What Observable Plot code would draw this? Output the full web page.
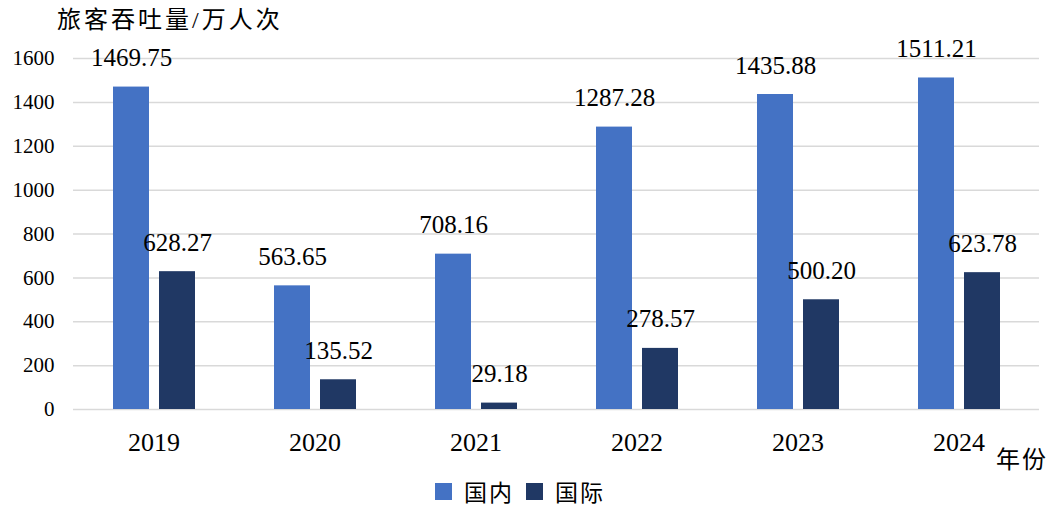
<!DOCTYPE html>
<html>
<head>
<meta charset="utf-8">
<script src="https://cdn.jsdelivr.net/npm/d3@7"></script>
<script src="https://cdn.jsdelivr.net/npm/@observablehq/plot@0.6"></script>
<style>
  body { margin: 0; background: #fff; width: 1052px; height: 512px; overflow: hidden; position: relative;
         font-family: "Liberation Serif", "Times New Roman", "Noto Sans CJK SC", serif; color: #000; }
  #title { height: 32px; padding-left: 57px; font-size: 24px; line-height: 40px; letter-spacing: 3px; white-space: nowrap; }
  #unitx { position: absolute; left: 996px; top: 440px; font-size: 24px; letter-spacing: 2px; }
  #legend { display: flex; justify-content: center; align-items: center; height: 42px; font-size: 23px; gap: 0; margin-left: 0px; }
  .sw { width: 17px; height: 17px; display: inline-block; margin-right: 12px; }
  .item { display: flex; align-items: center; margin-right: 12px; letter-spacing: 2px; }
  svg text { font-family: "Liberation Serif", "Times New Roman", "DejaVu Serif", serif !important; }
</style>
</head>
<body>
<div id="title">旅客吞吐量/万人次</div>
<div id="chart"></div>
<div id="legend"></div>
<div id="unitx">年份</div>
<script>
const years = ["2019", "2020", "2021", "2022", "2023", "2024"];
const domestic = [1469.75, 563.65, 708.16, 1287.28, 1435.88, 1511.21];
const international = [628.27, 135.52, 29.18, 278.57, 500.20, 623.78];
const series = ["国内", "国际"];
const colors = ["#4472C4", "#203864"];
const yTicks = [0, 200, 400, 600, 800, 1000, 1200, 1400, 1600];

const data = years.flatMap((y, i) => [
  {year: y, type: series[0], value: domestic[i]},
  {year: y, type: series[1], value: international[i]}
]);

const serifFont = '"Liberation Serif", "Times New Roman", serif';

const chart = Plot.plot({
  width: 1052,
  height: 438,
  marginLeft: 72,
  marginRight: 12,
  marginTop: 26,
  marginBottom: 61,
  style: {fontFamily: serifFont, color: "#000", background: "transparent"},
  fx: {domain: years, padding: 0, label: null},
  x: {domain: series, paddingInner: 0.22, paddingOuter: 0.85, axis: null},
  y: {domain: [0, 1600], label: null},
  color: {domain: series, range: colors},
  marks: [
    Plot.gridY(yTicks, {stroke: "#D9D9D9", strokeOpacity: 1, strokeWidth: 1.5}),
    Plot.axisY(yTicks, {tickSize: 0, tickPadding: 19, fontSize: 21, label: null, tickFormat: d => String(d)}),
    Plot.axisFx({anchor: "bottom", tickSize: 0, tickPadding: 23, fontSize: 26, label: null}),
    Plot.barY(data, {fx: "year", x: "type", y: "value", fill: "type"}),
    Plot.text(data, {fx: "year", x: "type", y: "value", text: d => d.value.toFixed(2),
                     dy: -29, fontSize: 25, fontFamily: serifFont, fill: "#000"})
  ]
});
document.getElementById("chart").appendChild(chart);

const legend = document.getElementById("legend");
series.forEach((s, i) => {
  const item = document.createElement("div");
  item.className = "item";
  const sw = document.createElement("span");
  sw.className = "sw";
  sw.style.background = colors[i];
  item.appendChild(sw);
  item.appendChild(document.createTextNode(s));
  legend.appendChild(item);
});
</script>
</body>
</html>
